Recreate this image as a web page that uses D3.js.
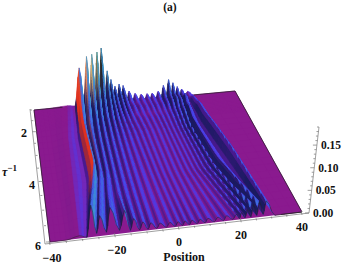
<!DOCTYPE html>
<html><head><meta charset="utf-8">
<script src="https://cdn.jsdelivr.net/npm/d3@7/dist/d3.min.js"></script>
<style>html,body{margin:0;padding:0;background:#fff}svg{display:block}text{font-family:"Liberation Serif",serif;font-weight:bold;fill:#111}</style>
</head><body><svg id="c" width="343" height="265"></svg>
<script>
const title = "(a)";
const positionLabel = "Position";
const positionTicks = [-40,-20,0,20,40];
const tauTicks = [2,4,6];
const heightTicks = [0,0.05,0.10,0.15];
// ridge positions read at four depths
const posTau = [1,2.5,4.2,6];
const ridgePos1 = [-27,-22.5,-19.7,-17.7,-15.7,-14.1,-11.7,-10.2,-8.6,-7,-5.4,-3,-0.6,1.8,4.2,6.2,8.6,10.6,12.6,14.4,16.2,18,20.5];
const ridgePos2 = [-29,-23.5,-21,-18.5,-16.3,-14,-11.8,-9.6,-7.4,-5.2,-3,-0.8,1.4,3.6,5.8,7.6,9.4,11.2,12.8,14.2,15.6,17,21.5];
const ridgePos3 = [-30,-23,-21,-18.8,-16.5,-14.2,-11.7,-9.3,-6.8,-4.1,-1.9,0.2,2.3,4.5,6.7,8.8,10.8,12.6,14.3,16,17.7,19.5,25];
const ridgePos4 = [-31,-27.5,-24.8,-21.6,-17.1,-14.3,-11.4,-8.9,-6,-2.9,-0.3,1.9,4.1,6.7,9.2,12.4,15.2,18.4,20,21.9,23.8,25.7,27.9];
const edgePos = [23,25.5,28,31];
// crest heights read along the ridges at successive depths
const heightTau = [1,1.25,1.5,1.75,2,3,4,5,6];
const crest1 = [.003,.105,.135,.14,.145,.155,.09,.065,.045,.05,.045,.028,.02,.016,.016,.016,.02,.035,.05,.04,.028,.02,.012];
const crest2 = [.004,.09,.11,.115,.115,.12,.07,.05,.035,.035,.03,.014,.01,.01,.01,.01,.012,.018,.025,.025,.02,.018,.012];
const crest3 = [.005,.08,.09,.09,.08,.07,.05,.035,.025,.025,.02,.016,.014,.012,.012,.012,.014,.018,.024,.03,.026,.035,.028];
const crest4 = [.006,.07,.07,.07,.06,.05,.04,.03,.02,.018,.016,.008,.008,.007,.007,.007,.008,.01,.014,.016,.02,.026,.03];
const crest5 = [.007,.06,.05,.05,.04,.035,.028,.022,.018,.015,.012,.012,.01,.01,.01,.01,.01,.012,.014,.016,.022,.032,.04];
const crest6 = [.009,.05,.036,.03,.026,.022,.018,.015,.012,.011,.01,.009,.008,.008,.008,.008,.008,.008,.01,.012,.016,.028,.045];
const crest7 = [.01,.05,.03,.026,.022,.02,.016,.013,.011,.01,.009,.008,.008,.008,.008,.008,.008,.008,.01,.012,.016,.028,.045];
const crest8 = [.01,.05,.03,.026,.022,.018,.015,.012,.01,.009,.008,.008,.008,.008,.008,.008,.008,.009,.011,.014,.018,.03,.04];
const crest9 = [.006,.07,.045,.06,.05,.03,.02,.016,.013,.012,.011,.011,.011,.011,.011,.011,.012,.013,.015,.02,.03,.035,.035];
const ridgePosRows = [ridgePos1,ridgePos2,ridgePos3,ridgePos4];
const crestRows = [crest1,crest2,crest3,crest4,crest5,crest6,crest7,crest8,crest9];

const svg = d3.select("#c");
const P = [[34,110],[235,91],[302,212],[50,242]];
const [x0,y0]=P[0],[x1,y1]=P[1],[x2,y2]=P[2],[x3,y3]=P[3];
const dx1=x1-x2,dx2=x3-x2,sx=x0-x1+x2-x3,dy1=y1-y2,dy2=y3-y2,sy=y0-y1+y2-y3,det=dx1*dy2-dx2*dy1;
const g=(sx*dy2-dx2*sy)/det,h=(dx1*sy-sx*dy1)/det;
const a=x1-x0+g*x1,b=x3-x0+h*x3,d=y1-y0+g*y1,e=y3-y0+h*y3;
const U=d3.scaleLinear([-40,40],[0,1]),V=d3.scaleLinear([1,6],[0,1]);
const K=440*(g+h+1);
function proj(p,t,z){
  const u=U(p),v=V(t),w=g*u+h*v+1;
  const px=(a*u+b*v+x0)/w,py=(d*u+e*v+y0)/w,zp=z*K/w;
  return [px+zp*0.1*(u-0.25),py-zp];
}
const posInterp=ridgePosRows[0].map((_,i)=>d3.scaleLinear(posTau,ridgePosRows.map(r=>r[i])));
const crestInterp=crestRows[0].map((_,i)=>d3.scaleLinear(heightTau,crestRows.map(r=>r[i])));
const edgeInterp=d3.scaleLinear(posTau,edgePos);
const troughFrac=0.15, troughAt=0.65;
function profile(t){
  const pts=[[-40,0],[-35,0]];
  posInterp.forEach((ps,i)=>{
    const p=ps(t),z=crestInterp[i](t);
    pts.push([p,z]);
    if(i<posInterp.length-1){
      const p2=posInterp[i+1](t),z2=crestInterp[i+1](t);
      pts.push([p+(p2-p)*troughAt,Math.min(z,z2)*troughFrac]);
    }
  });
  pts.push([edgeInterp(t),0],[40,0]);
  const out=[];
  for(let i=0;i<pts.length-1;i++){
    const n=3;
    for(let k=0;k<n;k++){
      const f=k/n,c=(1-Math.cos(Math.PI*f))/2;
      out.push([pts[i][0]+(pts[i+1][0]-pts[i][0])*f,pts[i][1]+(pts[i+1][1]-pts[i][1])*c]);
    }
  }
  out.push(pts[pts.length-1]);
  return out;
}
const rightRamp=d3.scaleLinear()
 .domain([0,-.002,-.006,-.02,-.05,-.1,-.25])
 .range(["#8a1a8f","#6a2cc8","#4a3ce8","#4060e8","#3c90d8","#50b0b0","#d8c878"]).clamp(true);
const leftRamp=d3.scaleLinear()
 .domain([0,.006,.015,.04])
 .range(["#8a1a8f","#7c1a8c","#4a1a90","#1a1a60"]).clamp(true);
const tipColor=d3.scaleLinear().domain([-24,-20,-18,-16,-14,-11])
 .range(["#e0301e","#e89060","#d0b070","#807850","#1c1c1c","#606060"]).clamp(true);
const zRef=d3.scaleLinear([-24,-20],[.035,.09]).clamp(true);
const redFade=d3.scaleLinear([4.2,5.2],[1,0]).clamp(true);
const tipReach=d3.scaleLinear([-10,-6],[1,0]).clamp(true);
function faceColor(s,z,p,t){
  if(s<=0) return rightRamp(s);
  const r=Math.min(1,z/zRef(p));
  const pw=p<-21?Math.max(0,(r-.25)/.75)*redFade(t):Math.max(0,(r-.45)/.55)*tipReach(p);
  return d3.interpolateRgb(leftRamp(s),tipColor(p))(pw);
}
const line=d3.line();
svg.append("path").attr("d",line(P)+"Z").attr("fill","#8a1a8f");
const g3=svg.append("g");
const rowsT=[];
heightTau.slice(0,-1).forEach((t,i)=>{const n=4;for(let k=0;k<n;k++)rowsT.push(t+(heightTau[i+1]-t)*k/n)});
rowsT.push(6);
const grids=rowsT.map(t=>({t,p:profile(t)}));
const quads=[];
for(let r=0;r<grids.length-1;r++){
  const A=grids[r],B=grids[r+1];
  for(let c=0;c<A.p.length-1;c++){
    const s=((A.p[c+1][1]-A.p[c][1])/Math.max(.05,A.p[c+1][0]-A.p[c][0])+(B.p[c+1][1]-B.p[c][1])/Math.max(.05,B.p[c+1][0]-B.p[c][0]))/2;
    const z=(A.p[c][1]+A.p[c+1][1]+B.p[c][1]+B.p[c+1][1])/4;
    const col=faceColor(s,z,A.p[c][0],A.t);
    quads.push({poly:[proj(A.p[c][0],A.t,A.p[c][1]),proj(A.p[c+1][0],A.t,A.p[c+1][1]),proj(B.p[c+1][0],B.t,B.p[c+1][1]),proj(B.p[c][0],B.t,B.p[c][1])],col});
  }
}
g3.selectAll("path").data(quads).join("path")
 .attr("d",q=>line(q.poly)+"Z")
 .attr("fill",q=>q.col).attr("stroke",q=>q.col).attr("stroke-width",0.6);
// surface outline
const edge=svg.append("g").attr("fill","none").attr("stroke","#222").attr("stroke-width",0.7);
edge.append("path").attr("d",line([proj(-40,6,0),proj(-40,1,0),proj(-29,1,0)]));
edge.append("path").attr("d",line([proj(23,1,0),proj(40,1,0),proj(40,6,0),proj(33,6,0)]));
edge.append("path").attr("d",line(profile(6).map(q=>proj(q[0],6,q[1])))).attr("stroke-width",0.5);
// axes
const axis=svg.append("g").attr("stroke","#777").attr("stroke-width",0.7).attr("fill","none");
const posA=p=>{const q=proj(p,6,0);return [q[0],q[1]+3]};
axis.append("path").attr("d",line([[45,244],[309,213]]));
d3.range(-40,41,5).forEach(p=>{const q=posA(p),L=p%20==0?4:2;axis.append("path").attr("d",line([q,[q[0]-L*0.2,q[1]-L]]))});
const tauA=t=>{const q=proj(-40,t,0);return [q[0]-4,q[1]]};
axis.append("path").attr("d",line([[30,109],[45,244]]));
d3.range(1,6.01,.5).forEach(t=>{const q=tauA(t),L=t%2==0?4:2;axis.append("path").attr("d",line([q,[q[0]+L,q[1]]]))});
const zS=d3.scaleLinear([0,.19],[213,127]);
const zX=d3.scaleLinear([0,.19],[309,319]);
axis.append("path").attr("d",line([[309,213],[319,127]]));
d3.range(0,.1901,.01).forEach(z=>{const L=Math.round(z*100)%5==0?4:2;axis.append("path").attr("d",line([[zX(z),zS(z)],[zX(z)-L,zS(z)]]))});
// labels
const T=(s,x,y,sz,an)=>svg.append("text").attr("x",x).attr("y",y).attr("font-size",sz).attr("text-anchor",an||"middle").text(s);
T(title,170,11,11.5);
T(positionLabel,184,261,12);
const pL=[[52,262],[117,254],[179,246],[241,239],[302,231]];
positionTicks.forEach((p,i)=>T(p<0?"\u2212"+(-p):p,pL[i][0],pL[i][1],12));
const tL=[[24,137],[32,189],[38,250]];
tauTicks.forEach((t,i)=>T(t,tL[i][0],tL[i][1],12));
heightTicks.forEach(z=>T(d3.format(".2f")(z),zX(z)+4,zS(z)+4,11.5,"start"));
const tt=svg.append("text").attr("x",2).attr("y",176).attr("font-size",12).attr("text-anchor","start");
tt.append("tspan").attr("font-style","italic").text("\u03c4");
tt.append("tspan").attr("dy",-5).attr("font-size",9).text("\u22121");
</script></body></html>
